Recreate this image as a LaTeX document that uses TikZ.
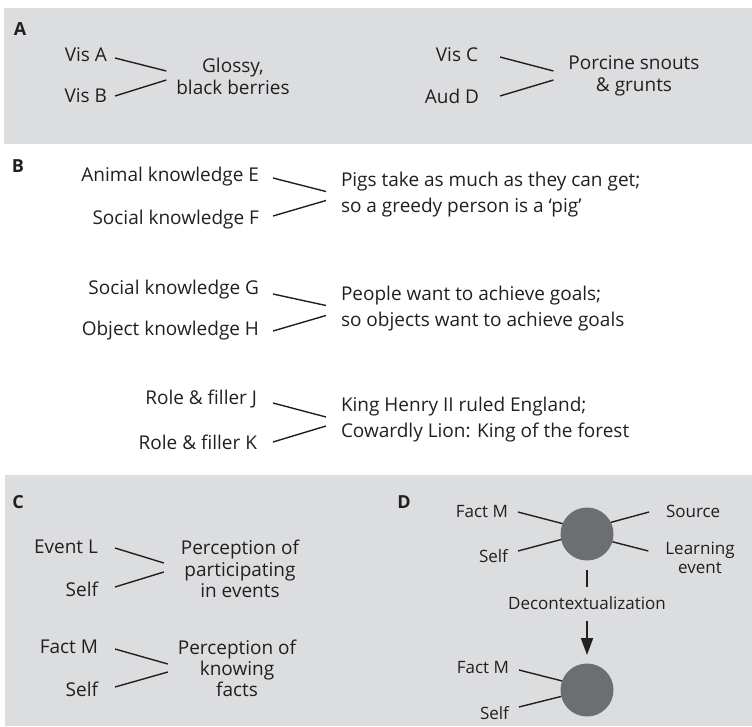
\documentclass[tikz,border=0pt]{standalone}
\usepackage{fontspec}
\setmainfont{Open Sans}
\usetikzlibrary{calc,arrows.meta}
\definecolor{panelgray}{RGB}{220,221,223}
\definecolor{dotgray}{RGB}{109,110,112}
\definecolor{ink}{RGB}{35,31,32}

\begin{document}
\begin{tikzpicture}[x=1pt,y=-1pt,
  every node/.style={inner sep=0pt, outer sep=0pt, text=ink},
  txt/.style={font=\fontsize{19}{22}\selectfont},
  txtB/.style={font=\fontsize{19}{26}\selectfont, align=left, anchor=west},
  txtD/.style={font=\fontsize{17}{18.5}\selectfont},
  tag/.style={font=\fontsize{18}{20}\selectfont\bfseries},
  link/.style={draw=ink, line width=1.4pt},
  panel/.style={fill=panelgray, draw=none},
  dot/.style={circle, fill=dotgray, minimum size=53pt},
]
\useasboundingbox (0,0) rectangle (752,726);

% grey panels
\path[panel] (4,8) rectangle (752,144);
\path[panel] (5,475) rectangle (752,726);

% ---------- A ----------
\node[tag] (tagA) at (20,29) {A};
\node[txt, anchor=east] (visA) at (107,55) {Vis A};
\node[txt, anchor=east] (visB) at (107,96) {Vis B};
\node[txt, align=center] (berries) at (233,76) {Glossy,\\black berries};
\draw[link] ($(visA.east)+(8,3)$) -- ($(berries.west)+(-10,-5)$);
\draw[link] ($(visB.east)+(8,0)$) -- ($(berries.west)+(-10,4)$);

\node[txt, anchor=east] (visC) at (478,55) {Vis C};
\node[txt, anchor=east] (audD) at (479,96) {Aud D};
\node[txt, align=center] (snouts) at (634,76) {Porcine snouts\\\& grunts};
\draw[link] ($(visC.east)+(22,2)$) -- ($(snouts.west)+(-15,-5)$);
\draw[link] ($(audD.east)+(21,0)$) -- ($(snouts.west)+(-15,4)$);

% ---------- B ----------
\node[tag] (tagB) at (18,166) {B};
\node[txt, anchor=east] (animE) at (259,177) {Animal knowledge E};
\node[txt, anchor=east] (socF) at (259,220) {Social knowledge F};
\node[txtB] (pigs) at (341,194.5) {Pigs take as much as they can get;\\so a greedy person is a ‘pig’};
\draw[link] ($(animE.east)+(14,1)$) -- ($(pigs.west)+(-15,-3)$);
\draw[link] ($(socF.east)+(14,-4)$) -- ($(pigs.west)+(-15,6)$);

\node[txt, anchor=east] (socG) at (259,290) {Social knowledge G};
\node[txt, anchor=east] (objH) at (259,331) {Object knowledge H};
\node[txtB] (goals) at (341,308.5) {People want to achieve goals;\\so objects want to achieve goals};
\draw[link] ($(socG.east)+(14,4)$) -- ($(goals.west)+(-15,-3)$);
\draw[link] ($(objH.east)+(14,0)$) -- ($(goals.west)+(-15,7)$);

\node[txt, anchor=east] (roleJ) at (257,399) {Role \& filler J};
\node[txt, anchor=east] (roleK) at (257,442) {Role \& filler K};
\node[txtB] (king) at (341,420) {King Henry II ruled England;\\Cowardly Lion: King of the forest};
\draw[link] ($(roleJ.east)+(16,4)$) -- ($(king.west)+(-15,-3)$);
\draw[link] ($(roleK.east)+(16,0)$) -- ($(king.west)+(-15,6)$);

% ---------- C ----------
\node[tag] (tagC) at (18,502) {C};
\node[txt, anchor=east] (eventL) at (98,547) {Event L};
\node[txt, anchor=east] (selfL) at (98,589) {Self};
\node[font=\fontsize{19}{21.5}\selectfont, align=center] (partic) at (240,569) {Perception of\\participating\\in events};
\draw[link] ($(eventL.east)+(17,1)$) -- ($(partic.west)+(-17,-6)$);
\draw[link] ($(selfL.east)+(17,-2)$) -- ($(partic.west)+(-17,3)$);

\node[txt, anchor=east] (factC) at (98,647) {Fact M};
\node[txt, anchor=east] (selfM) at (98,689) {Self};
\node[font=\fontsize{19}{21}\selectfont, align=center] (knowing) at (237,668) {Perception of\\knowing\\facts};
\draw[link] ($(factC.east)+(17,2)$) -- ($(knowing.west)+(-10,-4)$);
\draw[link] ($(selfM.east)+(17,-2)$) -- ($(knowing.west)+(-10,4)$);

% ---------- D ----------
\node[tag] (tagD) at (404,502) {D};
\node[dot] (hub) at (587,534) {};
\node[dot] (core) at (587,690) {};

\node[txtD, anchor=east] (factD) at (508,512) {Fact M};
\node[txtD, anchor=east] (selfD) at (508,556) {Self};
\node[txtD, anchor=west] (source) at (666,511) {Source};
\node[txtD, align=center] (learn) at (700,558) {Learning\\event};
\draw[link] ($(factD.east)+(10,0)$) -- (hub.157);
\draw[link] ($(selfD.east)+(10,-5)$) -- (hub.192);
\draw[link] (hub.26) -- ($(source.west)+(-17,1)$);
\draw[link] (hub.-17) -- ($(learn.west)+(-17,-7)$);

\node[txtD] (decon) at (587,603) {Decontextualization};
\draw[draw=ink, line width=2pt, shorten <=9.5pt, shorten >=9pt] (hub.south) -- (decon.north);
\draw[draw=ink, fill=ink, line width=2pt, -{Triangle[length=17pt,width=12pt]},
      shorten <=11pt, shorten >=8.5pt] (decon.south) -- (core.north);

\node[txtD, anchor=east] (factE) at (509,668) {Fact M};
\node[txtD, anchor=east] (selfE) at (509,713) {Self};
\draw[link] ($(factE.east)+(10,2)$) -- (core.160);
\draw[link] ($(selfE.east)+(10,-6)$) -- (core.194);
\end{tikzpicture}
\end{document}
